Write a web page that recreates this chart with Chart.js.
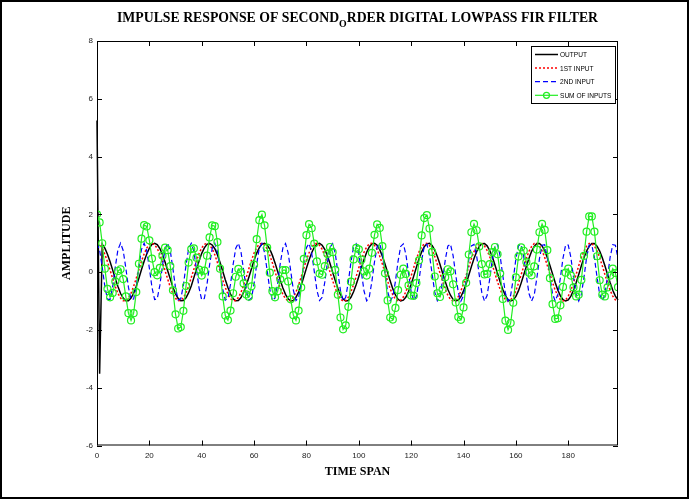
<!DOCTYPE html>
<html>
<head>
<meta charset="utf-8">
<script src="https://cdn.jsdelivr.net/npm/chart.js@4.4.1/dist/chart.umd.min.js"></script>
<style>
  html, body { margin: 0; padding: 0; background: #fff; }
  #wrap { width: 689px; height: 499px; }
</style>
</head>
<body>
<div id="wrap"><canvas id="filterChart" width="689" height="499"></canvas></div>
<script>
// sample values, one per time step (0..199)
const output = [
  5.25, -3.52, 0.96, 0.83, 0.62, 0.36, 0.07, -0.23, -0.5, -0.74,
  -0.9, -0.99, -0.99, -0.9, -0.73, -0.49, -0.21, 0.09, 0.38, 0.63,
  0.83, 0.96, 1, 0.95, 0.82, 0.61, 0.35, 0.05, -0.24, -0.52,
  -0.75, -0.91, -0.99, -0.98, -0.89, -0.71, -0.48, -0.19, 0.1, 0.39,
  0.65, 0.84, 0.96, 1, 0.94, 0.81, 0.6, 0.33, 0.04, -0.26,
  -0.53, -0.76, -0.92, -0.99, -0.98, -0.88, -0.7, -0.46, -0.18, 0.12,
  0.41, 0.66, 0.85, 0.97, 1, 0.94, 0.8, 0.58, 0.32, 0.02,
  -0.28, -0.55, -0.77, -0.92, -1, -0.98, -0.87, -0.69, -0.45, -0.16,
  0.14, 0.42, 0.67, 0.86, 0.97, 1, 0.93, 0.79, 0.57, 0.3,
  0, -0.29, -0.56, -0.78, -0.93, -1, -0.98, -0.87, -0.68, -0.43,
  -0.15, 0.15, 0.44, 0.69, 0.87, 0.98, 1, 0.93, 0.78, 0.55,
  0.28, -0.01, -0.31, -0.58, -0.79, -0.94, -1, -0.97, -0.86, -0.67,
  -0.42, -0.13, 0.17, 0.46, 0.7, 0.88, 0.98, 1, 0.92, 0.76,
  0.54, 0.27, -0.03, -0.32, -0.59, -0.8, -0.94, -1, -0.97, -0.85,
  -0.65, -0.4, -0.11, 0.19, 0.47, 0.71, 0.89, 0.98, 0.99, 0.91,
  0.75, 0.53, 0.25, -0.05, -0.34, -0.6, -0.81, -0.95, -1, -0.96,
  -0.84, -0.64, -0.38, -0.09, 0.2, 0.48, 0.72, 0.89, 0.99, 0.99,
  0.91, 0.74, 0.51, 0.23, -0.06, -0.36, -0.62, -0.82, -0.95, -1,
  -0.96, -0.83, -0.63, -0.37, -0.08, 0.22, 0.5, 0.73, 0.9, 0.99,
  0.99, 0.9, 0.73, 0.5, 0.22, -0.08, -0.37, -0.63, -0.83, -0.96
];

const firstInput = [
  1, 0.96, 0.83, 0.62, 0.36, 0.07, -0.23, -0.5, -0.74, -0.9,
  -0.99, -0.99, -0.9, -0.73, -0.49, -0.21, 0.09, 0.38, 0.63, 0.83,
  0.96, 1, 0.95, 0.82, 0.61, 0.35, 0.05, -0.24, -0.52, -0.75,
  -0.91, -0.99, -0.98, -0.89, -0.71, -0.48, -0.19, 0.1, 0.39, 0.65,
  0.84, 0.96, 1, 0.94, 0.81, 0.6, 0.33, 0.04, -0.26, -0.53,
  -0.76, -0.92, -0.99, -0.98, -0.88, -0.7, -0.46, -0.18, 0.12, 0.41,
  0.66, 0.85, 0.97, 1, 0.94, 0.8, 0.58, 0.32, 0.02, -0.28,
  -0.55, -0.77, -0.92, -1, -0.98, -0.87, -0.69, -0.45, -0.16, 0.14,
  0.42, 0.67, 0.86, 0.97, 1, 0.93, 0.79, 0.57, 0.3, 0,
  -0.29, -0.56, -0.78, -0.93, -1, -0.98, -0.87, -0.68, -0.43, -0.15,
  0.15, 0.44, 0.69, 0.87, 0.98, 1, 0.93, 0.78, 0.55, 0.28,
  -0.01, -0.31, -0.58, -0.79, -0.94, -1, -0.97, -0.86, -0.67, -0.42,
  -0.13, 0.17, 0.46, 0.7, 0.88, 0.98, 1, 0.92, 0.76, 0.54,
  0.27, -0.03, -0.32, -0.59, -0.8, -0.94, -1, -0.97, -0.85, -0.65,
  -0.4, -0.11, 0.19, 0.47, 0.71, 0.89, 0.98, 0.99, 0.91, 0.75,
  0.53, 0.25, -0.05, -0.34, -0.6, -0.81, -0.95, -1, -0.96, -0.84,
  -0.64, -0.38, -0.09, 0.2, 0.48, 0.72, 0.89, 0.99, 0.99, 0.91,
  0.74, 0.51, 0.23, -0.06, -0.36, -0.62, -0.82, -0.95, -1, -0.96,
  -0.83, -0.63, -0.37, -0.08, 0.22, 0.5, 0.73, 0.9, 0.99, 0.99,
  0.9, 0.73, 0.5, 0.22, -0.08, -0.37, -0.63, -0.83, -0.96, -1
];

const secondInput = [
  1, 0.76, 0.17, -0.5, -0.94, -0.94, -0.49, 0.19, 0.78, 1,
  0.75, 0.15, -0.52, -0.95, -0.93, -0.48, 0.2, 0.79, 1, 0.74,
  0.14, -0.53, -0.95, -0.92, -0.46, 0.22, 0.8, 1, 0.73, 0.12,
  -0.55, -0.96, -0.92, -0.45, 0.24, 0.81, 1, 0.72, 0.1, -0.56,
  -0.96, -0.91, -0.43, 0.25, 0.82, 1, 0.71, 0.09, -0.58, -0.97,
  -0.9, -0.42, 0.27, 0.83, 1, 0.7, 0.07, -0.59, -0.97, -0.9,
  -0.4, 0.28, 0.84, 0.99, 0.68, 0.05, -0.6, -0.98, -0.89, -0.39,
  0.3, 0.84, 0.99, 0.67, 0.04, -0.62, -0.98, -0.88, -0.37, 0.32,
  0.85, 0.99, 0.66, 0.02, -0.63, -0.98, -0.87, -0.35, 0.33, 0.86,
  0.99, 0.65, 0, -0.64, -0.99, -0.87, -0.34, 0.35, 0.87, 0.98,
  0.63, -0.01, -0.66, -0.99, -0.86, -0.32, 0.36, 0.88, 0.98, 0.62,
  -0.03, -0.67, -0.99, -0.85, -0.31, 0.38, 0.89, 0.98, 0.61, -0.05,
  -0.68, -0.99, -0.84, -0.29, 0.4, 0.89, 0.97, 0.59, -0.06, -0.69,
  -0.99, -0.83, -0.27, 0.41, 0.9, 0.97, 0.58, -0.08, -0.7, -1,
  -0.82, -0.26, 0.43, 0.91, 0.96, 0.57, -0.1, -0.72, -1, -0.81,
  -0.24, 0.44, 0.92, 0.96, 0.55, -0.12, -0.73, -1, -0.8, -0.23,
  0.46, 0.92, 0.96, 0.54, -0.13, -0.74, -1, -0.79, -0.21, 0.47,
  0.93, 0.95, 0.52, -0.15, -0.75, -1, -0.78, -0.19, 0.49, 0.94,
  0.94, 0.51, -0.17, -0.76, -1, -0.77, -0.18, 0.5, 0.94, 0.94,
  0.5, -0.18, -0.77, -1, -0.76, -0.16, 0.52, 0.95, 0.93, 0.48
];

const sumOfInputs = [
  2, 1.72, 1, 0.12, -0.58, -0.87, -0.72, -0.32, 0.04, 0.1,
  -0.24, -0.84, -1.42, -1.67, -1.42, -0.69, 0.29, 1.16, 1.63, 1.58,
  1.1, 0.47, 0, -0.11, 0.15, 0.57, 0.85, 0.76, 0.21, -0.63,
  -1.46, -1.95, -1.9, -1.34, -0.48, 0.33, 0.8, 0.82, 0.5, 0.09,
  -0.12, 0.05, 0.57, 1.2, 1.62, 1.59, 1.04, 0.12, -0.84, -1.5,
  -1.66, -1.33, -0.73, -0.16, 0.11, -0.01, -0.39, -0.77, -0.85, -0.49,
  0.26, 1.14, 1.8, 1.99, 1.62, 0.85, -0.02, -0.66, -0.87, -0.66,
  -0.25, 0.07, 0.07, -0.32, -0.94, -1.49, -1.67, -1.33, -0.53, 0.46,
  1.28, 1.66, 1.52, 0.99, 0.37, -0.05, -0.09, 0.21, 0.63, 0.87,
  0.69, 0.08, -0.78, -1.57, -1.98, -1.84, -1.2, -0.33, 0.44, 0.84,
  0.79, 0.43, 0.03, -0.12, 0.12, 0.67, 1.29, 1.65, 1.53, 0.9,
  -0.04, -0.98, -1.57, -1.64, -1.24, -0.62, -0.09, 0.12, -0.06, -0.46,
  -0.81, -0.82, -0.38, 0.41, 1.27, 1.87, 1.97, 1.51, 0.7, -0.15,
  -0.73, -0.86, -0.6, -0.18, 0.1, 0.03, -0.42, -1.05, -1.55, -1.65,
  -1.22, -0.37, 0.61, 1.38, 1.67, 1.45, 0.89, 0.28, -0.08, -0.06,
  0.28, 0.69, 0.87, 0.62, -0.05, -0.93, -1.68, -2, -1.76, -1.06,
  -0.18, 0.54, 0.86, 0.74, 0.35, -0.02, -0.11, 0.2, 0.78, 1.38,
  1.67, 1.46, 0.76, -0.21, -1.11, -1.62, -1.6, -1.15, -0.51, -0.02,
  0.12, -0.12, -0.53, -0.84, -0.78, -0.27, 0.56, 1.4, 1.93, 1.93,
  1.4, 0.55, -0.28, -0.78, -0.84, -0.53, -0.12, 0.12, -0.03, -0.52
];

const xTicks = [0, 20, 40, 60, 80, 100, 120, 140, 160, 180];
const yTicks = [-6, -4, -2, 0, 2, 4, 6, 8];

// time step n goes on x
const toPoints = arr => arr.map((v, n) => ({ x: n, y: v }));

Chart.defaults.font.family = '"Liberation Sans", Arial, sans-serif';

// matlab-like box, inward ticks, legend, title with the stray subscript, figure border
const matlabLook = {
    id: 'matlabLook',
    beforeDraw(chart) {
        const ctx = chart.ctx;
        ctx.save();
        ctx.fillStyle = '#fff';
        ctx.fillRect(0, 0, chart.width, chart.height);
        ctx.restore();
    },
    afterDraw(chart) {
        const { ctx, chartArea: a, scales: { x, y } } = chart;
        ctx.save();
        ctx.strokeStyle = '#000';
        ctx.lineWidth = 1;
        ctx.strokeRect(a.left + 0.5, a.top + 0.5, a.right - a.left - 1, a.bottom - a.top - 1);

        ctx.beginPath();
        xTicks.forEach(v => {
            const px = Math.round(x.getPixelForValue(v)) + 0.5;
            ctx.moveTo(px, a.bottom); ctx.lineTo(px, a.bottom - 5);
            ctx.moveTo(px, a.top); ctx.lineTo(px, a.top + 5);
        });
        yTicks.forEach(v => {
            const py = Math.round(y.getPixelForValue(v)) + 0.5;
            ctx.moveTo(a.left, py); ctx.lineTo(a.left + 5, py);
            ctx.moveTo(a.right, py); ctx.lineTo(a.right - 5, py);
        });
        ctx.stroke();

        // legend box, top right inside the axes
        const lx = a.right - 87, ly = a.top + 5, lw = 84, lh = 57;
        ctx.fillStyle = '#fff';
        ctx.fillRect(lx, ly, lw, lh);
        ctx.strokeRect(lx + 0.5, ly + 0.5, lw, lh);
        chart.data.datasets.forEach((ds, i) => {
            const yy = ly + 8.5 + i * 13.6;
            ctx.save();
            ctx.strokeStyle = ds.borderColor;
            ctx.lineWidth = ds.borderWidth;
            ctx.setLineDash(ds.borderDash || []);
            ctx.beginPath();
            ctx.moveTo(lx + 4, yy); ctx.lineTo(lx + 27, yy);
            ctx.stroke();
            if (ds.pointRadius) {
                ctx.setLineDash([]);
                ctx.beginPath();
                ctx.arc(lx + 15.5, yy, 3, 0, 2 * Math.PI);
                ctx.stroke();
            }
            ctx.restore();
            ctx.save();
            ctx.translate(lx + 29, yy + 0.5);
            ctx.scale(0.82, 1);
            ctx.fillStyle = '#000';
            ctx.font = '8px "Liberation Sans"';
            ctx.textBaseline = 'middle';
            ctx.fillText(ds.label, 0, 0);
            ctx.restore();
        });

        // title: "SECOND_ORDER" came out with a subscript O
        const p1 = 'IMPULSE RESPONSE OF SECOND', p2 = 'O', p3 = 'RDER DIGITAL LOWPASS FIR FILTER';
        ctx.font = 'bold 14px "Liberation Serif"';
        const w1 = ctx.measureText(p1).width, w3 = ctx.measureText(p3).width;
        ctx.font = 'bold 10px "Liberation Serif"';
        const w2 = ctx.measureText(p2).width;
        const total = w1 + w2 + w3;
        const sx = Math.min(1, 481 / total);
        ctx.translate((a.left + a.right) / 2 - total * sx / 2, 22);
        ctx.scale(sx, 1);
        ctx.fillStyle = '#000';
        ctx.font = 'bold 14px "Liberation Serif"';
        ctx.fillText(p1, 0, 0);
        ctx.fillText(p3, w1 + w2, 0);
        ctx.font = 'bold 10px "Liberation Serif"';
        ctx.fillText(p2, w1, 5);
        ctx.setTransform(1, 0, 0, 1, 0, 0);

        ctx.lineWidth = 2;
        ctx.strokeRect(1, 1, chart.width - 2, chart.height - 2);
        ctx.restore();
    }
};

const titleFont = { family: '"Liberation Serif", "Times New Roman", serif', size: 12, weight: 'bold' };

new Chart(document.getElementById('filterChart'), {
    type: 'line',
    data: {
        datasets: [
            { label: 'OUTPUT', data: toPoints(output), borderColor: '#000000', borderWidth: 1.5, pointRadius: 0, order: 3, clip: false },
            { label: '1ST INPUT', data: toPoints(firstInput), borderColor: '#ff0000', borderWidth: 1.5, borderDash: [2, 2], pointRadius: 0, order: 2 },
            { label: '2ND INPUT', data: toPoints(secondInput), borderColor: '#0000ff', borderWidth: 1.2, borderDash: [5, 3], pointRadius: 0, order: 1 },
            { label: 'SUM OF INPUTS', data: toPoints(sumOfInputs), borderColor: '#22ee22', borderWidth: 1.2,
              pointRadius: 3.5, pointBorderColor: '#22ee22', pointBackgroundColor: 'rgba(0,0,0,0)', pointBorderWidth: 1.2, order: 0 }
        ]
    },
    options: {
        responsive: false,
        animation: false,
        devicePixelRatio: 1,
        events: [],
        layout: { padding: { left: 56, right: 71, top: 41, bottom: 20 } },
        plugins: { legend: { display: false }, tooltip: { enabled: false } },
        scales: {
            x: {
                type: 'linear', min: 0, max: 199,
                afterBuildTicks: s => { s.ticks = xTicks.map(v => ({ value: v })); },
                afterFit: s => { s.height = 33.5; },
                grid: { display: false, drawTicks: false },
                border: { display: false },
                ticks: { padding: 5, color: '#222', font: { size: 8 }, autoSkip: false, maxRotation: 0 },
                title: { display: true, text: 'TIME SPAN', color: '#000', font: titleFont, padding: { top: 0, bottom: 0 } }
            },
            y: {
                min: -6, max: 8,
                afterBuildTicks: s => { s.ticks = yTicks.map(v => ({ value: v })); },
                afterFit: s => { s.width = 41; },
                grid: { display: false, drawTicks: false },
                border: { display: false },
                ticks: { padding: 4, color: '#222', font: { size: 8 } },
                title: { display: true, text: 'AMPLITUDE', color: '#000', font: titleFont, padding: { top: 4, bottom: 0 } }
            }
        }
    },
    plugins: [matlabLook]
});
</script>
</body>
</html>
